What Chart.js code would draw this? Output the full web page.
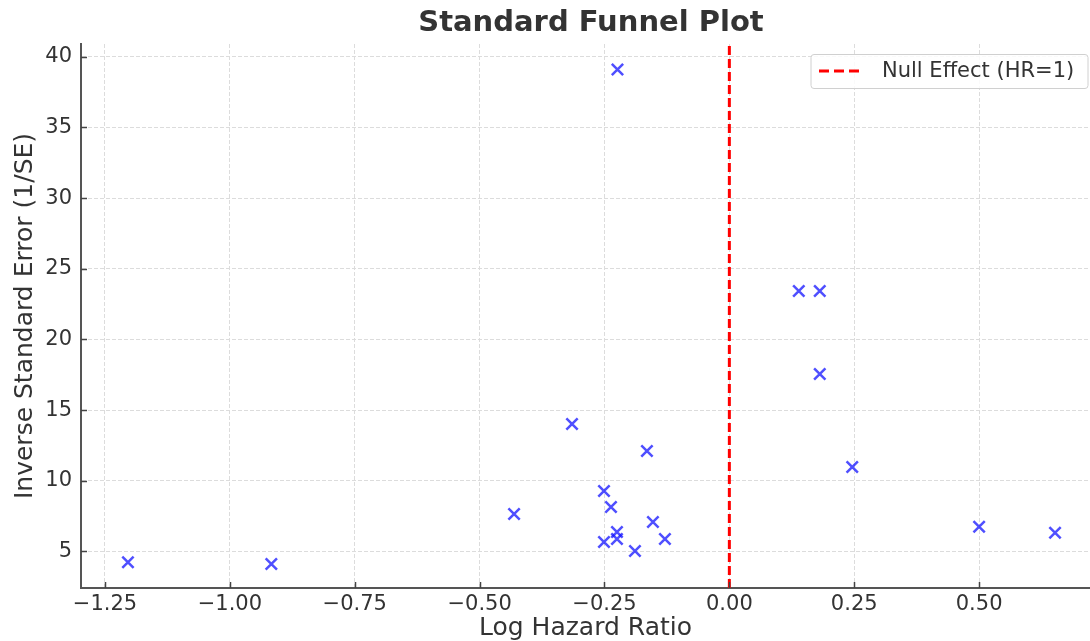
<!DOCTYPE html>
<html>
<head>
<meta charset="utf-8">
<title>Standard Funnel Plot</title>
<script src="https://cdn.jsdelivr.net/npm/chart.js@4/dist/chart.umd.min.js"></script>
<style>
    html, body { margin: 0; padding: 0; background: #fff; overflow: hidden; }
    #wrap { width: 1090px; height: 641px; position: relative; }
</style>
</head>
<body>
<div id="wrap"><canvas id="funnel"></canvas></div>
<script>
// dati
const logHR = [-0.224, 0.139, 0.181, 0.181, 0.246, -0.315, -0.165, -0.251, -0.237, -0.431,
               -0.153, -0.225, -0.225, -0.251, -0.129, -0.189, 0.500, 0.652, -1.204, -0.917];
const invSE = [39.1, 23.43, 23.43, 17.56, 10.98, 14.02, 12.11, 9.28, 8.15, 7.65,
               7.09, 6.38, 5.88, 5.67, 5.88, 5.04, 6.75, 6.33, 4.24, 4.12];
const xTicks = [-1.25, -1.0, -0.75, -0.5, -0.25, 0, 0.25, 0.5];
const yTicks = [5, 10, 15, 20, 25, 30, 35, 40];
const xRange = [-1.298, 0.722];
const yRange = [2.418, 40.9];
const nullEffect = 0;
const nullLabel = 'Null Effect (HR=1)';
const chartTitle = 'Standard Funnel Plot';

const FONT = "'DejaVu Sans', 'Liberation Sans', sans-serif";
const TEXT = '#333333';

// titolo: nell'originale gli assi proseguono oltre il bordo destro, quindi è spostato a destra
const axesTitle = {
    id: 'axesTitle',
    afterDraw(chart) {
        const ctx = chart.ctx;
        ctx.save();
        ctx.fillStyle = TEXT;
        ctx.font = 'bold 29px ' + FONT;
        ctx.textAlign = 'center';
        ctx.textBaseline = 'middle';
        ctx.fillText(chartTitle, 591, 23.5);
        ctx.restore();
    }
};

// tacche interne sugli assi (stile matplotlib)
const innerTicks = {
    id: 'innerTicks',
    afterDraw(chart) {
        const ctx = chart.ctx;
        const area = chart.chartArea;
        const xs = chart.scales.x, ys = chart.scales.y;
        ctx.save();
        ctx.strokeStyle = '#444';
        ctx.lineWidth = 1.5;
        ctx.beginPath();
        xTicks.forEach(v => {
            const px = Math.round(xs.getPixelForValue(v)) + 0.5;
            ctx.moveTo(px, area.bottom);
            ctx.lineTo(px, area.bottom - 6);
        });
        yTicks.forEach(v => {
            const py = Math.round(ys.getPixelForValue(v)) + 0.5;
            ctx.moveTo(area.left, py);
            ctx.lineTo(area.left + 6, py);
        });
        ctx.stroke();
        ctx.restore();
    }
};

// legenda dentro l'area del grafico, in alto a destra
const boxLegend = {
    id: 'boxLegend',
    afterDraw(chart) {
        const ctx = chart.ctx;
        const ds = chart.data.datasets[1];
        const x0 = 811, y0 = 54.5, w = 277, h = 34, r = 3;
        ctx.save();
        ctx.beginPath();
        ctx.moveTo(x0 + r, y0);
        ctx.lineTo(x0 + w - r, y0);
        ctx.arcTo(x0 + w, y0, x0 + w, y0 + r, r);
        ctx.lineTo(x0 + w, y0 + h - r);
        ctx.arcTo(x0 + w, y0 + h, x0 + w - r, y0 + h, r);
        ctx.lineTo(x0 + r, y0 + h);
        ctx.arcTo(x0, y0 + h, x0, y0 + h - r, r);
        ctx.lineTo(x0, y0 + r);
        ctx.arcTo(x0, y0, x0 + r, y0, r);
        ctx.closePath();
        ctx.fillStyle = 'rgba(255,255,255,0.85)';
        ctx.fill();
        ctx.strokeStyle = '#d0d0d0';
        ctx.lineWidth = 1;
        ctx.stroke();

        ctx.beginPath();
        ctx.setLineDash([10, 5]);
        ctx.strokeStyle = ds.borderColor;
        ctx.lineWidth = 3;
        ctx.moveTo(819, 71);
        ctx.lineTo(859, 71);
        ctx.stroke();
        ctx.setLineDash([]);

        ctx.fillStyle = TEXT;
        ctx.font = '21px ' + FONT;
        ctx.textBaseline = 'middle';
        ctx.textAlign = 'left';
        ctx.fillText(ds.label, 882, 71.5);
        ctx.restore();
    }
};

const points = logHR.map((v, i) => ({ x: v, y: invSE[i] }));

new Chart(document.getElementById('funnel'), {
    type: 'scatter',
    data: {
        datasets: [
            {
                label: 'Studies',
                data: points,
                pointStyle: 'crossRot',
                pointRadius: 8,
                pointHoverRadius: 8,
                pointBorderWidth: 2.5,
                borderColor: 'rgba(20,20,255,0.75)',
                backgroundColor: 'rgba(20,20,255,0.75)'
            },
            {
                label: nullLabel,
                type: 'line',
                data: [{ x: nullEffect, y: yRange[0] }, { x: nullEffect, y: yRange[1] }],
                borderColor: '#ff0000',
                borderWidth: 3,
                borderDash: [9, 4],
                pointRadius: 0,
                showLine: true,
                fill: false
            }
        ]
    },
    options: {
        responsive: true,
        maintainAspectRatio: false,
        animation: false,
        layout: { autoPadding: false, padding: { top: 44, right: 0, left: 0, bottom: 0 } },
        plugins: {
            legend: { display: false },
            tooltip: { enabled: false },
            title: { display: false }
        },
        scales: {
            x: {
                type: 'linear',
                min: xRange[0],
                max: xRange[1],
                afterBuildTicks: (scale) => { scale.ticks = xTicks.map(v => ({ value: v })); },
                afterFit: (scale) => {
                    scale.height = 53;
                    scale.paddingLeft = 0;
                    scale.paddingRight = 0;
                },
                ticks: {
                    color: TEXT,
                    padding: 4,
                    maxRotation: 0,
                    autoSkip: false,
                    font: { family: FONT, size: 21 },
                    callback: (v) => v.toFixed(2).replace('-', '\u2212')
                },
                grid: {
                    color: '#dcdcdc',
                    lineWidth: 1,
                    drawTicks: false
                },
                border: { display: true, color: '#555', width: 2, dash: [4, 2] },
                title: {
                    display: true,
                    text: 'Log Hazard Ratio',
                    color: TEXT,
                    font: { family: FONT, size: 25, lineHeight: 1 },
                    padding: { top: 0, bottom: 0 }
                }
            },
            y: {
                type: 'linear',
                min: yRange[0],
                max: yRange[1],
                afterBuildTicks: (scale) => { scale.ticks = yTicks.map(v => ({ value: v })); },
                afterFit: (scale) => {
                    scale.width = 81;
                    scale.paddingTop = 0;
                    scale.paddingBottom = 0;
                },
                ticks: {
                    color: TEXT,
                    padding: 9,
                    autoSkip: false,
                    font: { family: FONT, size: 21 },
                    callback: (v) => String(v)
                },
                grid: {
                    color: '#dcdcdc',
                    lineWidth: 1,
                    drawTicks: false
                },
                border: { display: true, color: '#555', width: 2, dash: [4, 2] },
                title: {
                    display: true,
                    text: 'Inverse Standard Error (1/SE)',
                    color: TEXT,
                    font: { family: FONT, size: 25, lineHeight: 1 },
                    padding: { top: 13, bottom: 0 }
                }
            }
        }
    },
    plugins: [axesTitle, innerTicks, boxLegend]
});
</script>
</body>
</html>
